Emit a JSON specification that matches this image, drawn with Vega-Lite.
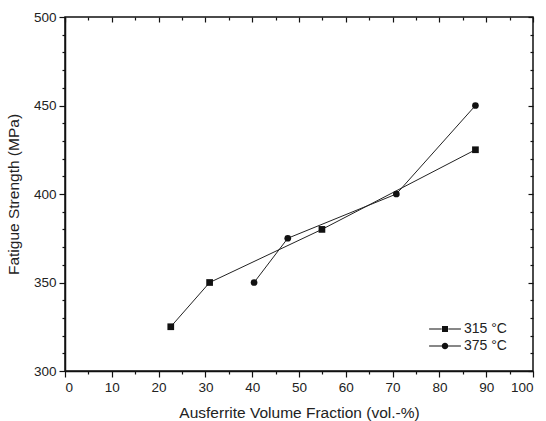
{
  "$schema": "https://vega.github.io/schema/vega-lite/v6.json",
  "width": 468,
  "height": 354,
  "autosize": {"type": "none"},
  "padding": {"left": 65, "top": 17, "right": 13, "bottom": 50},
  "config": {
    "font": "Liberation Sans",
    "view": {"stroke": "#111", "strokeWidth": 1.5},
    "axis": {
      "grid": false,
      "domainColor": "#111",
      "domainWidth": 1.5,
      "tickColor": "#111",
      "tickWidth": 1.2,
      "labelColor": "#222",
      "titleColor": "#222",
      "labelFontSize": 13.5,
      "titleFontSize": 15.5,
      "titleFontWeight": "normal",
      "labelOverlap": false
    }
  },
  "data": {
    "values": [
      {"series": "315 °C", "fraction": 22.6, "strength": 325},
      {"series": "315 °C", "fraction": 30.9, "strength": 350},
      {"series": "315 °C", "fraction": 54.9, "strength": 380},
      {"series": "315 °C", "fraction": 87.7, "strength": 425},
      {"series": "375 °C", "fraction": 40.4, "strength": 350},
      {"series": "375 °C", "fraction": 47.6, "strength": 375},
      {"series": "375 °C", "fraction": 70.8, "strength": 400},
      {"series": "375 °C", "fraction": 87.7, "strength": 450}
    ]
  },
  "layer": [
    {
      "mark": {"type": "line", "color": "#222", "strokeWidth": 1},
      "encoding": {
        "x": {
          "field": "fraction", "type": "quantitative",
          "scale": {"domain": [0, 100], "nice": false},
          "axis": {
            "orient": "bottom",
            "title": "Ausferrite Volume Fraction (vol.-%)",
            "values": [0,5,10,15,20,25,30,35,40,45,50,55,60,65,70,75,80,85,90,95,100],
            "labelExpr": "datum.value % 10 === 0 ? datum.label : ''",
            "tickSize": {"condition": {"test": "datum.value % 10 === 0", "value": 6}, "value": 3},
            "labelPadding": 3,
            "titlePadding": 12
          }
        },
        "y": {
          "field": "strength", "type": "quantitative",
          "scale": {"domain": [300, 500], "nice": false, "zero": false},
          "axis": {
            "orient": "left",
            "title": "Fatigue Strength (MPa)",
            "values": [300,310,320,330,340,350,360,370,380,390,400,410,420,430,440,450,460,470,480,490,500],
            "labelExpr": "datum.value % 50 === 0 ? datum.label : ''",
            "tickSize": {"condition": {"test": "datum.value % 50 === 0", "value": 6}, "value": 3},
            "labelPadding": 3,
            "titlePadding": 12
          }
        },
        "detail": {"field": "series"}
      }
    },
    {
      "mark": {"type": "point", "filled": true, "color": "#111", "opacity": 1, "size": 45},
      "encoding": {
        "x": {
          "field": "fraction", "type": "quantitative",
          "axis": {
            "orient": "top", "title": null, "labels": false, "domain": false,
            "values": [0,5,10,15,20,25,30,35,40,45,50,55,60,65,70,75,80,85,90,95,100],
            "tickSize": {"condition": {"test": "datum.value % 10 === 0", "value": -5}, "value": -3}
          }
        },
        "y": {
          "field": "strength", "type": "quantitative",
          "axis": {
            "orient": "right", "title": null, "labels": false, "domain": false,
            "values": [300,310,320,330,340,350,360,370,380,390,400,410,420,430,440,450,460,470,480,490,500],
            "tickSize": {"condition": {"test": "datum.value % 50 === 0", "value": -5}, "value": -3}
          }
        },
        "shape": {
          "field": "series", "type": "nominal",
          "scale": {"domain": ["315 °C", "375 °C"], "range": ["square", "circle"]},
          "legend": null
        }
      }
    },
    {
      "mark": {"type": "point", "filled": true, "color": "#111", "opacity": 0},
      "encoding": {
        "x": {"field": "fraction", "type": "quantitative", "axis": null},
        "y": {"field": "strength", "type": "quantitative", "axis": null},
        "shape": {
          "field": "series", "type": "nominal",
          "scale": {
            "domain": ["315 °C", "375 °C"],
            "range": [
              "M-5.3,-0.18H-1.1V0.18H-5.3Z M1.1,-0.18H5.3V0.18H1.1Z M-1,-1H1V1H-1Z",
              "M-5.3,-0.18H-1.1V0.18H-5.3Z M1.1,-0.18H5.3V0.18H1.1Z M1.1,0A1.1,1.1 0 1 1 -1.1,0A1.1,1.1 0 1 1 1.1,0Z"
            ]
          },
          "legend": {
            "orient": "none",
            "legendX": 373,
            "legendY": 305,
            "title": null,
            "padding": 0,
            "symbolSize": 36,
            "symbolOpacity": 1,
            "symbolFillColor": "#111",
            "symbolStrokeColor": "#222",
            "symbolStrokeWidth": 0,
            "labelFontSize": 14,
            "labelColor": "#222",
            "labelOffset": 12,
            "rowPadding": 3,
            "encode": {
              "symbols": {
                "update": {
                  "fill": {"value": "#111"},
                  "opacity": {"value": 1}
                }
              }
            }
          }
        }
      }
    }
  ],
  "resolve": {
    "axis": {"x": "independent", "y": "independent"},
    "scale": {"shape": "independent"}
  }
}
